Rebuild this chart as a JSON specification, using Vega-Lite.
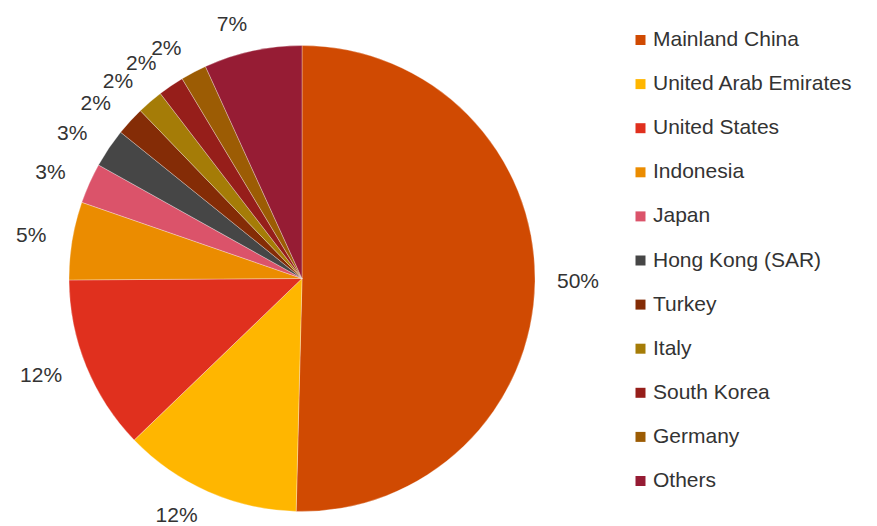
{
  "$schema": "https://vega.github.io/schema/vega-lite/v6.json",
  "width": 604,
  "height": 495,
  "autosize": "none",
  "padding": {"left": 0, "top": 31, "right": 273, "bottom": 0},
  "background": "white",
  "config": {"view": {"stroke": null}},
  "data": {
    "values": [
      {"i": 1, "country": "Mainland China", "share": 0.504},
      {"i": 2, "country": "United Arab Emirates", "share": 0.124},
      {"i": 3, "country": "United States", "share": 0.121},
      {"i": 4, "country": "Indonesia", "share": 0.054},
      {"i": 5, "country": "Japan", "share": 0.028},
      {"i": 6, "country": "Hong Kong (SAR)", "share": 0.027},
      {"i": 7, "country": "Turkey", "share": 0.020},
      {"i": 8, "country": "Italy", "share": 0.018},
      {"i": 9, "country": "South Korea", "share": 0.018},
      {"i": 10, "country": "Germany", "share": 0.018},
      {"i": 11, "country": "Others", "share": 0.068}
    ]
  },
  "encoding": {
    "theta": {"field": "share", "type": "quantitative", "stack": true},
    "order": {"field": "i", "type": "quantitative"}
  },
  "layer": [
    {
      "mark": {"type": "arc", "outerRadius": 233, "stroke": "#ffffff", "strokeWidth": 0.6, "strokeOpacity": 0.5},
      "encoding": {
        "color": {
          "field": "country",
          "type": "nominal",
          "sort": null,
          "scale": {
            "domain": ["Mainland China", "United Arab Emirates", "United States", "Indonesia", "Japan", "Hong Kong (SAR)", "Turkey", "Italy", "South Korea", "Germany", "Others"],
            "range": ["#D04A02", "#FFB600", "#E0301E", "#EB8C00", "#DB536A", "#464646", "#842C06", "#A57C07", "#961E1A", "#9C5C04", "#961C34"]
          },
          "legend": {
            "title": null,
            "orient": "none",
            "legendX": 630,
            "legendY": -1.5,
            "padding": 0,
            "symbolType": "square",
            "symbolSize": 100,
            "symbolStrokeWidth": 0,
            "labelFont": "Liberation Sans",
            "labelFontSize": 21,
            "labelColor": "#333333",
            "labelOffset": 2,
            "labelLimit": 300,
            "rowPadding": 22.1
          }
        }
      }
    },
    {
      "mark": {"type": "text", "radius": 259, "align": "right", "baseline": "middle", "font": "Liberation Sans", "fontSize": 21, "color": "#333333"},
      "encoding": {
        "text": {
          "condition": {"test": "datum.country === 'Mainland China'", "value": ""},
          "field": "share", "type": "quantitative", "format": ".0%"
        }
      }
    },
    {
      "mark": {"type": "text", "radius": 255, "align": "left", "baseline": "middle", "font": "Liberation Sans", "fontSize": 21, "color": "#333333"},
      "encoding": {
        "text": {
          "condition": {"test": "datum.country !== 'Mainland China'", "value": ""},
          "field": "share", "type": "quantitative", "format": ".0%"
        }
      }
    }
  ]
}
